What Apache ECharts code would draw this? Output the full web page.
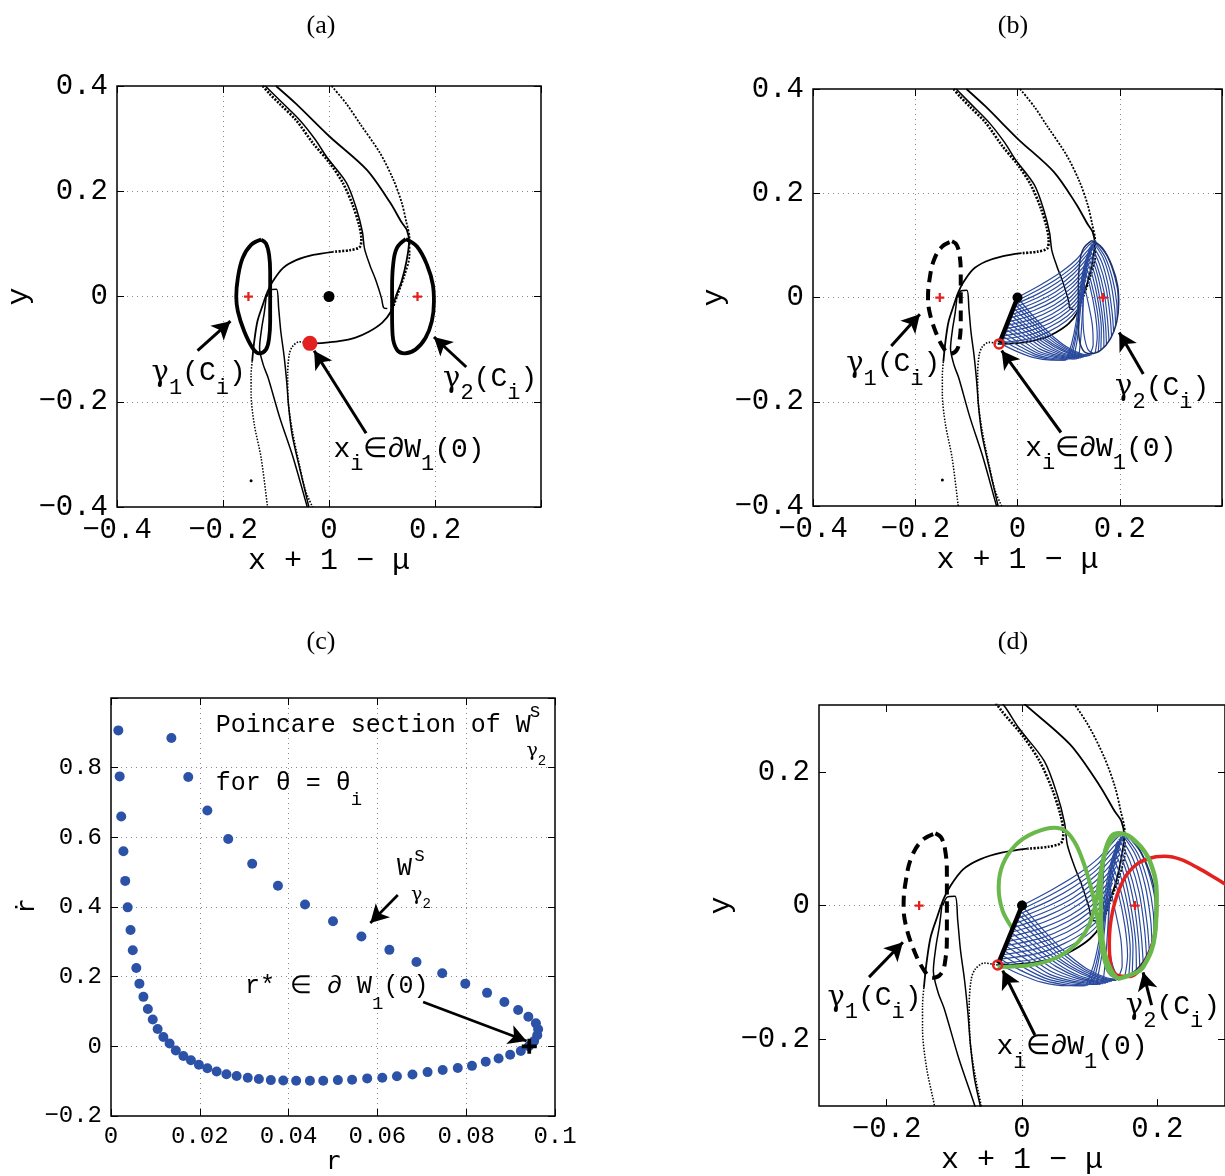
<!DOCTYPE html>
<html>
<head>
<meta charset="utf-8">
<script src="https://cdn.jsdelivr.net/npm/echarts@6/dist/echarts.min.js"></script>
<style>
html, body { margin: 0; background: #fff; }
#main { width: 1225px; height: 1176px; }
</style>
</head>
<body>
<div id="main"></div>
<script>
// 初始化 echarts 实例
var myChart = echarts.init(document.getElementById('main'));

const MONO = 'Liberation Mono';
const BLACK = '#000', BLUE = '#2a4a9e', GREEN = '#6ab84b', RED = '#e3211f', DOTC = '#2c52a8';

// ---------- manifold curves in (x + 1 - mu, y), shared by panels a, b, d ----------
const bandTop = [[-0.125,0.4],[-0.112,0.385],[-0.093,0.366],[-0.062,0.335],[-0.030,0.291],[0.001,0.254],[0.026,0.216],[0.045,0.173],[0.057,0.135],[0.061,0.110],[0.058,0.094],[0.039,0.088],[0.008,0.085]];
const bandArc = [[0.008,0.085],[-0.030,0.079],[-0.062,0.069],[-0.087,0.054],[-0.106,0.029],[-0.116,0.0095],[-0.125,-0.016],[-0.135,-0.047],[-0.141,-0.085],[-0.145,-0.123]];
const bandLow = [[-0.145,-0.123],[-0.147,-0.149],[-0.147,-0.185],[-0.141,-0.243],[-0.128,-0.307],[-0.116,-0.4]];
const arcMain = [[-0.100,0.4],[-0.062,0.366],[0.001,0.304],[0.071,0.241],[0.115,0.179],[0.137,0.141],[0.147,0.126],[0.151,0.104],[0.146,0.066],[0.137,0.029],[0.126,0.0],[0.116,-0.030],[0.100,-0.050],[0.075,-0.067],[0.050,-0.078],[0.019,-0.085],[-0.010,-0.088],[-0.036,-0.089]];
const rightBand = [[0.005,0.4],[0.033,0.366],[0.058,0.329],[0.096,0.273],[0.121,0.223],[0.137,0.179],[0.146,0.141],[0.152,0.110],[0.152,0.079],[0.143,0.041],[0.130,0.004],[0.121,-0.022]];
const innerBand = [[-0.120,0.4],[-0.090,0.37],[-0.055,0.335],[-0.025,0.297],[-0.005,0.266],[0.033,0.216],[0.052,0.166],[0.063,0.123],[0.067,0.091],[0.077,0.060],[0.089,0.029],[0.099,-0.003],[0.103,-0.021],[0.110,-0.023]];
const hookLine = [[-0.117,0.0],[-0.110,0.013],[-0.099,0.014],[-0.095,-0.022],[-0.091,-0.066],[-0.085,-0.111],[-0.080,-0.160],[-0.076,-0.210],[-0.070,-0.260],[-0.059,-0.311],[-0.045,-0.370],[-0.038,-0.4]];
const lowLeft = [[-0.036,-0.089],[-0.056,-0.086],[-0.069,-0.095],[-0.075,-0.110],[-0.078,-0.148],[-0.077,-0.199],[-0.069,-0.256],[-0.056,-0.319],[-0.044,-0.370],[-0.031,-0.4]];
const lowMid = [[-0.118,0.004],[-0.122,-0.030],[-0.127,-0.060],[-0.131,-0.098],[-0.124,-0.130],[-0.115,-0.154],[-0.093,-0.230],[-0.068,-0.305],[-0.043,-0.393],[-0.041,-0.4]];
const strayDot = [[-0.147,-0.35]];

// Lyapunov orbits around L1 and L2
const gamma1 = [[-0.128,0.108],[-0.119,0.101],[-0.113,0.079],[-0.111,0.047],[-0.111,0],[-0.111,-0.047],[-0.113,-0.079],[-0.119,-0.101],[-0.132,-0.108],[-0.144,-0.098],[-0.160,-0.066],[-0.172,-0.028],[-0.175,0],[-0.172,0.035],[-0.163,0.073],[-0.147,0.098],[-0.128,0.108]];
const gamma2 = [[0.145,0.109],[0.166,0.095],[0.185,0.060],[0.196,0.022],[0.198,-0.010],[0.194,-0.047],[0.182,-0.079],[0.163,-0.101],[0.143,-0.108],[0.128,-0.101],[0.120,-0.073],[0.119,-0.035],[0.119,0.016],[0.121,0.060],[0.128,0.092],[0.145,0.109]];
const lagrange = [[-0.152,0],[0.167,0]];
const origin = [[0,0]];
const xiPoint = [[-0.036,-0.089]];
const segment = [[0,0],[-0.035,-0.087]];

// blue tube of W^s(gamma2) started on the segment
const meshUp = [
  [[0,0],[0.043,0.023],[0.081,0.046],[0.113,0.071],[0.139,0.100],[0.152,0.110]],
  [[-0.003,-0.007],[0.041,0.015],[0.079,0.037],[0.112,0.062],[0.137,0.090],[0.150,0.102]],
  [[-0.005,-0.013],[0.040,0.007],[0.078,0.029],[0.110,0.053],[0.135,0.081],[0.148,0.094]],
  [[-0.008,-0.020],[0.038,-0.001],[0.077,0.020],[0.109,0.045],[0.134,0.072],[0.146,0.085]],
  [[-0.011,-0.027],[0.036,-0.009],[0.075,0.011],[0.108,0.036],[0.132,0.062],[0.144,0.076]],
  [[-0.013,-0.033],[0.034,-0.017],[0.074,0.003],[0.107,0.027],[0.131,0.053],[0.142,0.068]],
  [[-0.016,-0.040],[0.032,-0.025],[0.072,-0.006],[0.105,0.018],[0.129,0.044],[0.140,0.059]],
  [[-0.019,-0.047],[0.031,-0.033],[0.071,-0.015],[0.104,0.009],[0.128,0.035],[0.138,0.051]],
  [[-0.022,-0.054],[0.029,-0.041],[0.069,-0.023],[0.103,0.000],[0.126,0.026],[0.136,0.042]],
  [[-0.024,-0.060],[0.027,-0.049],[0.067,-0.032],[0.101,-0.009],[0.124,0.016],[0.134,0.034]],
  [[-0.027,-0.067],[0.025,-0.056],[0.066,-0.040],[0.100,-0.018],[0.123,0.007],[0.132,0.025]],
  [[-0.030,-0.074],[0.023,-0.064],[0.064,-0.049],[0.098,-0.027],[0.121,-0.003],[0.131,0.017]],
  [[-0.032,-0.080],[0.022,-0.072],[0.062,-0.057],[0.097,-0.036],[0.120,-0.012],[0.129,0.008]],
  [[-0.035,-0.087],[0.020,-0.080],[0.060,-0.066],[0.095,-0.045],[0.118,-0.022],[0.128,0.000]]
];
const meshDown = [
  [[0,0],[0.030,-0.035],[0.062,-0.068],[0.095,-0.094],[0.125,-0.108],[0.145,-0.110]],
  [[-0.003,-0.007],[0.028,-0.040],[0.060,-0.072],[0.093,-0.096],[0.123,-0.109],[0.142,-0.111]],
  [[-0.005,-0.013],[0.026,-0.045],[0.058,-0.076],[0.091,-0.098],[0.121,-0.110],[0.139,-0.112]],
  [[-0.008,-0.020],[0.024,-0.050],[0.056,-0.080],[0.089,-0.100],[0.119,-0.111],[0.136,-0.112]],
  [[-0.011,-0.027],[0.021,-0.056],[0.054,-0.083],[0.087,-0.102],[0.117,-0.112],[0.133,-0.113]],
  [[-0.013,-0.033],[0.019,-0.061],[0.052,-0.087],[0.085,-0.105],[0.115,-0.113],[0.130,-0.114]],
  [[-0.016,-0.040],[0.016,-0.066],[0.050,-0.091],[0.083,-0.107],[0.113,-0.114],[0.127,-0.115]],
  [[-0.019,-0.047],[0.013,-0.071],[0.047,-0.095],[0.081,-0.109],[0.110,-0.115],[0.124,-0.116]],
  [[-0.022,-0.054],[0.010,-0.076],[0.044,-0.099],[0.078,-0.111],[0.107,-0.116],[0.120,-0.117]],
  [[-0.024,-0.060],[0.007,-0.081],[0.041,-0.103],[0.075,-0.113],[0.104,-0.117],[0.116,-0.118]],
  [[-0.027,-0.067],[0.004,-0.087],[0.038,-0.106],[0.073,-0.115],[0.101,-0.118],[0.112,-0.118]],
  [[-0.030,-0.074],[0.001,-0.092],[0.035,-0.109],[0.070,-0.117],[0.098,-0.119]],
  [[-0.032,-0.080],[-0.002,-0.097],[0.033,-0.112],[0.068,-0.119],[0.095,-0.120]],
  [[-0.035,-0.087],[-0.005,-0.102],[0.030,-0.115],[0.066,-0.120],[0.092,-0.120]]
];
const meshSide = [
  [[0.095,-0.119],[0.106,-0.088],[0.115,-0.045],[0.121,0.005],[0.129,0.055],[0.142,0.097]],
  [[0.100,-0.118],[0.110,-0.085],[0.118,-0.040],[0.124,0.010],[0.132,0.060],[0.145,0.100]],
  [[0.105,-0.117],[0.113,-0.083],[0.120,-0.038],[0.125,0.012],[0.133,0.062],[0.146,0.102]],
  [[0.110,-0.116],[0.117,-0.080],[0.122,-0.035],[0.127,0.015],[0.135,0.065],[0.148,0.104]],
  [[0.120,-0.113],[0.124,-0.075],[0.127,-0.030],[0.130,0.020],[0.138,0.070],[0.150,0.106]]
];
const meshInner = [
  [[0.152,0.108],[0.175,0.080],[0.190,0.040],[0.197,0.000],[0.197,-0.030]],
  [[0.150,0.107],[0.171,0.078],[0.186,0.035],[0.194,-0.010],[0.195,-0.042]],
  [[0.148,0.106],[0.168,0.075],[0.182,0.030],[0.190,-0.020],[0.192,-0.055]],
  [[0.145,0.103],[0.164,0.070],[0.177,0.025],[0.185,-0.028],[0.188,-0.065]],
  [[0.143,0.100],[0.160,0.065],[0.173,0.020],[0.181,-0.035],[0.184,-0.075]],
  [[0.140,0.095],[0.156,0.060],[0.169,0.012],[0.176,-0.042],[0.179,-0.083]],
  [[0.138,0.090],[0.153,0.055],[0.165,0.005],[0.172,-0.050],[0.174,-0.090]],
  [[0.136,0.083],[0.150,0.048],[0.161,-0.002],[0.168,-0.055],[0.169,-0.096]],
  [[0.134,0.075],[0.147,0.040],[0.158,-0.010],[0.164,-0.060],[0.163,-0.100]],
  [[0.132,0.065],[0.144,0.030],[0.155,-0.020],[0.160,-0.068],[0.158,-0.104]],
  [[0.131,0.055],[0.142,0.020],[0.152,-0.030],[0.156,-0.075],[0.152,-0.106]],
  [[0.129,0.030],[0.136,0.000],[0.146,-0.050],[0.148,-0.090],[0.142,-0.108]],
  [[0.130,0.020],[0.128,-0.030],[0.130,-0.070],[0.138,-0.100],[0.150,-0.108]]
];

// panel d extra trajectories
const greenLoop = [[-0.0138,-0.035],[-0.0286,-0.008],[-0.0345,0.027],[-0.0286,0.061],[-0.0089,0.091],[0.0183,0.109],[0.048,0.1165],[0.065,0.111],[0.080,0.091],[0.092,0.061],[0.102,0.027],[0.1096,-0.008],[0.1146,-0.0425],[0.1195,-0.072],[0.128,-0.098],[0.1415,-0.1096]];
const greenOrbit = [[0.1415,-0.1096],[0.160,-0.104],[0.179,-0.092],[0.1965,-0.043],[0.199,0.016],[0.189,0.066],[0.169,0.095],[0.144,0.108],[0.1315,0.103],[0.1215,0.0756],[0.1165,0.031],[0.1165,-0.018],[0.1215,-0.068],[0.1315,-0.097],[0.1415,-0.1096]];
const greenBottom = [[-0.036,-0.092],[0.0133,-0.089],[0.053,-0.077],[0.0825,-0.055],[0.0997,-0.0277],[0.1096,0.007],[0.1146,0.0415],[0.122,0.076],[0.134,0.1007],[0.144,0.1067]];
const redCurve = [[0.199,0.0],[0.196,-0.045],[0.182,-0.085],[0.160,-0.106],[0.140,-0.104],[0.132,-0.092],[0.129,-0.057],[0.134,-0.008],[0.149,0.0365],[0.166,0.0588],[0.186,0.070],[0.211,0.0736],[0.2356,0.0686],[0.260,0.0563],[0.285,0.0415],[0.310,0.026]];

// ---------- panel c: Poincare section ----------
const rVals = [0.00165,0.00195,0.0023,0.0028,0.0032,0.00375,0.0044,0.0049,0.0057,0.0064,0.0073,0.0083,0.0094,0.0105,0.0118,0.0132,0.0146,0.0163,0.018,0.0198,0.0217,0.0238,0.026,0.0283,0.0308,0.0333,0.036,0.0388,0.0417,0.0448,0.0478,0.0511,0.0543,0.0577,0.0611,0.0644,0.0679,0.0713,0.0747,0.0781,0.0813,0.0844,0.0873,0.0899,0.0923,0.0941,0.0953,0.096,0.0962,0.0957,0.094,0.0917,0.0886,0.0847,0.0798,0.0746,0.0688,0.0627,0.0564,0.050,0.0437,0.0376,0.0318,0.0264,0.0217,0.0174,0.0136];
const rdotVals = [0.907,0.775,0.660,0.560,0.475,0.399,0.334,0.276,0.225,0.180,0.142,0.107,0.077,0.050,0.027,0.008,-0.012,-0.028,-0.040,-0.053,-0.063,-0.072,-0.080,-0.085,-0.090,-0.094,-0.097,-0.098,-0.099,-0.099,-0.099,-0.097,-0.096,-0.092,-0.090,-0.086,-0.081,-0.074,-0.068,-0.062,-0.056,-0.044,-0.035,-0.024,-0.0135,0.0,0.015,0.032,0.049,0.066,0.085,0.1045,0.1275,0.1535,0.180,0.210,0.242,0.277,0.3155,0.359,0.407,0.461,0.524,0.595,0.677,0.773,0.885];
const rStar = [[0.0942,0.0]];

// annotation arrows [x0, y0, x1, y1] (tail -> head)
const arrowsA = [[-0.248,-0.103,-0.186,-0.047],[0.259,-0.134,0.198,-0.077],[0.070,-0.260,-0.028,-0.103]];
const arrowsB = [[-0.247,-0.093,-0.191,-0.032],[0.246,-0.147,0.199,-0.067],[0.085,-0.259,-0.031,-0.102]];
const arrowsC = [[0.0646,0.4345,0.0584,0.354],[0.0703,0.1275,0.0936,0.0153]];
const arrowsD = [[-0.226,-0.107,-0.176,-0.055],[0.1915,-0.149,0.179,-0.0998],[0.019,-0.1936,-0.0285,-0.0973]];

// ---------- helpers ----------
const grids = [], xAxes = [], yAxes = [], series = [];
const PLUS = 'path://M3,0H5V3H8V5H5V8H3V5H0V3H3Z';

function fmtTick(hide) {
    return function (v) {
        for (var i = 0; i < hide.length; i++) {
            if (Math.abs(v - hide[i]) < 1e-9) return '';
        }
        return v < 0 ? '\u2212' + String(-v) : String(v);
    };
}

function makeAxis(g, pos, r, main, font, hide, name, gap, rot, nameFont) {
    var ax = {
        type: 'value', gridIndex: g, position: pos, min: r[0], max: r[1],
        axisLine: { show: false, onZero: false },
        axisTick: { show: true, inside: true, length: 7, lineStyle: { color: '#000', width: 1 } },
        axisLabel: { show: main, color: '#000', fontFamily: MONO, fontSize: font, margin: 9,
                     formatter: fmtTick(hide), showMinLabel: true, showMaxLabel: true },
        splitLine: { show: main, showMinLine: false, showMaxLine: false,
                     lineStyle: { color: '#8a8a8a', width: 1, type: [1, 4] } }
    };
    if (r[2]) {
        ax.interval = r[2];
    } else {
        ax.axisTick.customValues = r[3];
        ax.axisLabel.customValues = r[3];
    }
    if (main) {
        ax.name = name;
        ax.nameLocation = 'middle';
        ax.nameGap = gap;
        ax.nameRotate = rot;
        ax.nameTextStyle = { color: '#000', fontFamily: nameFont || MONO, fontSize: font + 1 };
    }
    return ax;
}

function addPanel(p) {
    var g = grids.length;
    grids.push(Object.assign({ show: true, borderColor: '#000', borderWidth: 1.5 }, p.box));
    xAxes.push(makeAxis(g, 'bottom', p.x, true, p.font, p.xHide, p.xName, p.xGap, 0, p.nameFont));
    xAxes.push(makeAxis(g, 'top', p.x, false, p.font, []));
    yAxes.push(makeAxis(g, 'left', p.y, true, p.font, p.yHide, p.yName, p.yGap, 90, p.nameFont));
    yAxes.push(makeAxis(g, 'right', p.y, false, p.font, []));
    return g;
}

function lineS(g, data, o) {
    o = o || {};
    return {
        type: 'line', xAxisIndex: 2 * g, yAxisIndex: 2 * g, data: data, symbol: 'none',
        smooth: o.smooth === undefined ? 0.3 : o.smooth, silent: true, z: o.z || 2,
        lineStyle: { color: o.color || BLACK, width: o.width || 1.5, type: o.type || 'solid' }
    };
}

function pointS(g, data, size, style, symbol, z) {
    return {
        type: 'scatter', xAxisIndex: 2 * g, yAxisIndex: 2 * g, data: data,
        symbol: symbol || 'circle', symbolSize: size,
        itemStyle: Object.assign({ opacity: 1 }, style), silent: true, z: z || 7
    };
}

function textS(g, items, rich) {
    return {
        type: 'scatter', xAxisIndex: 2 * g, yAxisIndex: 2 * g, symbolSize: 0, silent: true, z: 9,
        itemStyle: { opacity: 1 },
        data: items.map(function (it) {
            return {
                value: [it[0], it[1]],
                label: { show: true, position: 'inside', align: it[3] || 'center', verticalAlign: 'middle',
                         color: '#000', formatter: it[2], rich: rich }
            };
        })
    };
}

function arrowS(g, list, width) {
    return {
        type: 'line', xAxisIndex: 2 * g, yAxisIndex: 2 * g, data: [], silent: true, z: 9,
        markLine: {
            silent: true, animation: false, symbol: ['none', 'arrow'], symbolSize: [15, 18],
            label: { show: false }, emphasis: { disabled: true },
            lineStyle: { color: '#000', width: width, type: 'solid', opacity: 1 },
            data: list.map(function (a) { return [{ coord: [a[0], a[1]] }, { coord: [a[2], a[3]] }]; })
        }
    };
}

function addManifold(g) {
    series.push(lineS(g, bandTop, { width: 2.6, type: [2, 1.5] }));
    series.push(lineS(g, bandArc, { width: 1.8 }));
    series.push(lineS(g, bandLow, { width: 1.5, type: [1.5, 1.5] }));
    series.push(lineS(g, arcMain, { width: 1.8 }));
    series.push(lineS(g, rightBand, { width: 1.8, type: [2, 1.5] }));
    series.push(lineS(g, innerBand, { width: 1.5 }));
    series.push(lineS(g, hookLine, { width: 1.5 }));
    series.push(lineS(g, lowLeft, { width: 1.6, type: [1.5, 1.5] }));
    series.push(lineS(g, lowMid, { width: 1.5 }));
    series.push(pointS(g, strayDot, 3, { color: '#000' }));
}

function addMesh(g) {
    meshUp.concat(meshDown, meshSide, meshInner).forEach(function (c) {
        series.push(lineS(g, c, { color: BLUE, width: 1.2, z: 4 }));
    });
    series.push(lineS(g, gamma2, { color: '#1d2f66', width: 1.5, z: 4, smooth: 0.4 }));
}

// subscripts: top-aligned tokens pushed down with top padding
const RICH = {
    t: { fontFamily: MONO, fontSize: 28, color: '#000', verticalAlign: 'top', lineHeight: 30 },
    g: { fontFamily: 'DejaVu Serif', fontSize: 29, color: '#000', verticalAlign: 'top', lineHeight: 30 },
    s: { fontFamily: MONO, fontSize: 22, color: '#000', verticalAlign: 'top', lineHeight: 22, padding: [18, 0, 0, 0] }
};
const RICHC = {
    t: { fontFamily: MONO, fontSize: 25, color: '#000', verticalAlign: 'top', lineHeight: 28 },
    s: { fontFamily: MONO, fontSize: 19, color: '#000', verticalAlign: 'top', lineHeight: 19, padding: [20, 0, 0, 0] },
    u: { fontFamily: MONO, fontSize: 20, color: '#000' },
    g: { fontFamily: 'DejaVu Serif', fontSize: 19, color: '#000', verticalAlign: 'top', lineHeight: 20 },
    k: { fontFamily: MONO, fontSize: 14, color: '#000', verticalAlign: 'top', lineHeight: 14, padding: [12, 0, 0, 0] }
};
const G1 = '{g|γ}{s|1}{t|(C}{s|i}{t|)}';
const G2 = '{g|γ}{s|2}{t|(C}{s|i}{t|)}';
const XI = '{t|x}{s|i}{t|∈∂W}{s|1}{t|(0)}';

// ---------- panel a ----------
var ga = addPanel({ box: { left: 117, top: 86, width: 424, height: 421 }, x: [-0.4, 0.4, 0.2], y: [-0.4, 0.4, 0.2],
    font: 29, xHide: [0.4], yHide: [], xName: 'x + 1 − μ', xGap: 34, yName: 'y', yGap: 80 });
addManifold(ga);
series.push(lineS(ga, gamma1, { width: 3.8, z: 5, smooth: 0.4 }));
series.push(lineS(ga, gamma2, { width: 3.8, z: 5, smooth: 0.4 }));
series.push(pointS(ga, origin, 11, { color: '#000' }));
series.push(pointS(ga, xiPoint, 15, { color: RED }));
series.push(pointS(ga, lagrange, 9, { color: RED }, PLUS));
series.push(arrowS(ga, arrowsA, 3));
series.push(textS(ga, [[-0.246, -0.147, G1], [0.304, -0.158, G2], [0.151, -0.292, XI]], RICH));

// ---------- panel b ----------
var gb = addPanel({ box: { left: 813, top: 89, width: 416, height: 417 }, x: [-0.4, 0.4, 0.2], y: [-0.4, 0.4, 0.2],
    font: 29, xHide: [0.4], yHide: [], xName: 'x + 1 − μ', xGap: 34, yName: 'y', yGap: 84 });
addManifold(gb);
series.push(lineS(gb, gamma1, { width: 4, z: 3, type: [11, 7], smooth: 0.4 }));
addMesh(gb);
series.push(lineS(gb, segment, { width: 4.5, z: 6, smooth: false }));
series.push(pointS(gb, origin, 10, { color: '#000' }));
series.push(pointS(gb, xiPoint, 9, { color: 'rgba(0,0,0,0)', borderColor: RED, borderWidth: 2.5 }));
series.push(pointS(gb, lagrange, 9, { color: RED }, PLUS));
series.push(arrowS(gb, arrowsB, 3));
series.push(textS(gb, [[-0.243, -0.129, G1], [0.283, -0.174, G2], [0.163, -0.291, XI]], RICH));

// ---------- panel c ----------
var gc = addPanel({ box: { left: 111, top: 698, width: 444, height: 418 }, x: [0, 0.1, 0.02], y: [-0.2, 1, 0.2],
    font: 24, xHide: [], yHide: [1], xName: 'r', xGap: 30, yName: 'ṙ', yGap: 68, nameFont: 'DejaVu Sans Mono' });
series.push(pointS(gc, rVals.map(function (r, i) { return [r, rdotVals[i]]; }), 10, { color: DOTC }));
series.push(pointS(gc, rStar, 15, { color: '#000' }, PLUS, 8));
series.push(arrowS(gc, arrowsC, 2.6));
series.push(textS(gc, [
    [0.0236, 0.916, '{t|Poincare section of W}', 'left'],
    [0.0955, 0.960, '{u|s}'],
    [0.0958, 0.845, '{g|γ}{k|2}'],
    [0.0236, 0.752, '{t|for θ = θ}{s|i}', 'left'],
    [0.0661, 0.508, '{t|W}'],
    [0.0695, 0.546, '{u|s}'],
    [0.0698, 0.433, '{g|γ}{k|2}'],
    [0.0302, 0.167, '{t|r* ∈ ∂ W}{s|1}{t|(0)}', 'left']
], RICHC));

// ---------- panel d ----------
var gd = addPanel({ box: { left: 819, top: 705, width: 406, height: 405 }, x: [-0.3, 0.3, null, [-0.2, 0, 0.2]],
    y: [-0.3, 0.3, null, [-0.2, 0, 0.2]], font: 29, xHide: [], yHide: [], xName: 'x + 1 − μ', xGap: 34, yName: 'y', yGap: 82 });
addManifold(gd);
series.push(lineS(gd, gamma1, { width: 4, z: 3, type: [11, 7], smooth: 0.4 }));
addMesh(gd);
series.push(lineS(gd, redCurve, { color: RED, width: 3.5, z: 5 }));
series.push(lineS(gd, greenLoop, { color: GREEN, width: 4, z: 6 }));
series.push(lineS(gd, greenOrbit, { color: GREEN, width: 4.5, z: 6, smooth: 0.4 }));
series.push(lineS(gd, greenBottom, { color: GREEN, width: 4, z: 6 }));
series.push(lineS(gd, segment, { width: 4.5, z: 6, smooth: false }));
series.push(pointS(gd, origin, 10, { color: '#000' }));
series.push(pointS(gd, xiPoint, 9, { color: 'rgba(0,0,0,0)', borderColor: RED, borderWidth: 2.5 }));
series.push(pointS(gd, lagrange, 9, { color: RED }, PLUS));
series.push(arrowS(gd, arrowsD, 3));
series.push(textS(gd, [[-0.218, -0.139, G1], [0.223, -0.152, G2], [0.074, -0.213, XI]], RICH));

// ---------- titles ----------
const titleStyle = { fontFamily: 'Liberation Serif', fontSize: 26, fontWeight: 'normal', color: '#000' };
var option = {
    animation: false,
    backgroundColor: '#fff',
    title: [
        { text: '(a)', left: 316, top: 8, textAlign: 'center', textStyle: titleStyle },
        { text: '(b)', left: 1008, top: 8, textAlign: 'center', textStyle: titleStyle },
        { text: '(c)', left: 316, top: 624, textAlign: 'center', textStyle: titleStyle },
        { text: '(d)', left: 1008, top: 624, textAlign: 'center', textStyle: titleStyle }
    ],
    grid: grids,
    xAxis: xAxes,
    yAxis: yAxes,
    series: series
};
myChart.setOption(option);

window.addEventListener('resize', function () {
    myChart.resize();
});
</script>
</body>
</html>
